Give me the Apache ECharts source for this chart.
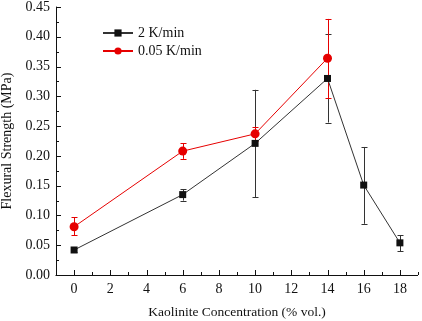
<!DOCTYPE html>
<html><head><meta charset="utf-8">
<script src="https://cdn.jsdelivr.net/npm/echarts@6/dist/echarts.min.js"></script>
<style>html,body{margin:0;padding:0;background:#fff}#c{width:422px;height:321px}</style>
</head><body><div id="c"></div>
<script>
const xFast = [0, 6, 10, 14, 16, 18];
const yFast = [0.042, 0.135, 0.221, 0.330, 0.151, 0.054];
const loFast = [0.038, 0.125, 0.131, 0.256, 0.086, 0.040];
const hiFast = [0.046, 0.144, 0.311, 0.404, 0.215, 0.067];
const xSlow = [0, 6, 10, 14];
const ySlow = [0.081, 0.208, 0.237, 0.364];
const loSlow = [0.067, 0.195, 0.225, 0.297];
const hiSlow = [0.097, 0.221, 0.249, 0.430];
const xTickLabels = [0, 2, 4, 6, 8, 10, 12, 14, 16, 18];
const xMinorTicks = [-1, 1, 3, 5, 7, 9, 11, 13, 15, 17, 19];
const yMajorTicks = [0, 0.05, 0.10, 0.15, 0.20, 0.25, 0.30, 0.35, 0.40, 0.45];
const yMinorTicks = [0.025, 0.075, 0.125, 0.175, 0.225, 0.275, 0.325, 0.375, 0.425];
const xRange = [-1, 19];
const yRange = [0, 0.45];
const names = ['2 K/min', '0.05 K/min'];

const FONT = 'Liberation Serif';
const BLACK = '#111';
const RED = '#e60000';
const px = v => Math.round(v) + 0.5;

function errSeries(xs, lo, hi, color) {
  return {
    type: 'custom', silent: true,
    data: xs.map((x, i) => [x, lo[i], hi[i]]),
    renderItem: function (params, api) {
      const p1 = api.coord([api.value(0), api.value(1)]);
      const p2 = api.coord([api.value(0), api.value(2)]);
      const w = 3;
      const st = {stroke: color, lineWidth: 1, fill: null};
      const x = px(p1[0]);
      return {type: 'group', children: [
        {type: 'line', shape: {x1: x, y1: p1[1], x2: x, y2: p2[1]}, style: st},
        {type: 'line', shape: {x1: x - w, y1: px(p1[1]), x2: x + w, y2: px(p1[1])}, style: st},
        {type: 'line', shape: {x1: x - w, y1: px(p2[1]), x2: x + w, y2: px(p2[1])}, style: st}
      ]};
    }
  };
}

// axis baseline and inward ticks, placed through the chart's own scales
function tickSeries(values, dim, len) {
  return {
    type: 'custom', silent: true,
    data: values.map(v => dim === 'x' ? [v, yRange[0]] : [xRange[0], v]),
    renderItem: function (params, api) {
      const p = api.coord([api.value(0), api.value(1)]);
      const st = {stroke: BLACK, lineWidth: 1, fill: null};
      if (dim === 'x') {
        const x = px(p[0]);
        return {type: 'line', shape: {x1: x, y1: p[1], x2: x, y2: p[1] - len}, style: st};
      }
      const y = px(p[1]);
      return {type: 'line', shape: {x1: p[0], y1: y, x2: p[0] + len, y2: y}, style: st};
    }
  };
}

function baseLineSeries() {
  return {
    type: 'custom', silent: true,
    data: [[xRange[0], yRange[0], xRange[1]]],
    renderItem: function (params, api) {
      const a = api.coord([api.value(0), api.value(1)]);
      const b = api.coord([api.value(2), api.value(1)]);
      const y = px(a[1]);
      return {type: 'line', shape: {x1: a[0] - 0.5, y1: y, x2: b[0], y2: y},
        style: {stroke: BLACK, lineWidth: 1, fill: null}};
    }
  };
}

const chart = echarts.init(document.getElementById('c'));
chart.setOption({
  animation: false,
  grid: {left: 56, right: 4, top: 7, bottom: 46, containLabel: false, outerBoundsMode: 'none'},
  legend: {
    left: 97, top: 21, orient: 'vertical', itemGap: 4, itemWidth: 30, itemHeight: 9,
    data: names,
    textStyle: {fontFamily: FONT, fontSize: 14, color: '#111'}
  },
  xAxis: {
    type: 'value', min: xRange[0], max: xRange[1], interval: 2,
    name: 'Kaolinite Concentration (% vol.)', nameLocation: 'middle', nameGap: 30,
    nameTextStyle: {fontFamily: FONT, fontSize: 13.5, color: '#111'},
    axisLine: {show: false},
    axisTick: {show: false},
    axisLabel: {customValues: xTickLabels, fontFamily: FONT, fontSize: 14, color: '#111', margin: 7},
    splitLine: {show: false}
  },
  yAxis: {
    type: 'value', min: yRange[0], max: yRange[1], interval: 0.05,
    name: 'Flexural Strength (MPa)', nameLocation: 'middle', nameGap: 40,
    nameTextStyle: {fontFamily: FONT, fontSize: 14, color: '#111'},
    axisLine: {show: true, onZero: false, lineStyle: {color: BLACK, width: 1}},
    axisTick: {show: false},
    axisLabel: {fontFamily: FONT, fontSize: 14, color: '#111', margin: 6,
      formatter: function (v) { return (+v).toFixed(2); }},
    splitLine: {show: false}
  },
  series: [
    baseLineSeries(),
    tickSeries(xTickLabels, 'x', 5),
    tickSeries(xMinorTicks, 'x', 3),
    tickSeries(yMajorTicks, 'y', 5),
    tickSeries(yMinorTicks, 'y', 3),
    errSeries(xFast, loFast, hiFast, '#333'),
    errSeries(xSlow, loSlow, hiSlow, RED),
    {
      name: names[0], type: 'line',
      data: xFast.map((x, i) => [x, yFast[i]]),
      symbol: 'rect', symbolSize: 7,
      lineStyle: {color: '#333', width: 1},
      itemStyle: {color: BLACK}
    },
    {
      name: names[1], type: 'line',
      data: xSlow.map((x, i) => [x, ySlow[i]]),
      symbol: 'circle', symbolSize: 9,
      lineStyle: {color: RED, width: 1},
      itemStyle: {color: RED}
    }
  ]
});
</script></body></html>
